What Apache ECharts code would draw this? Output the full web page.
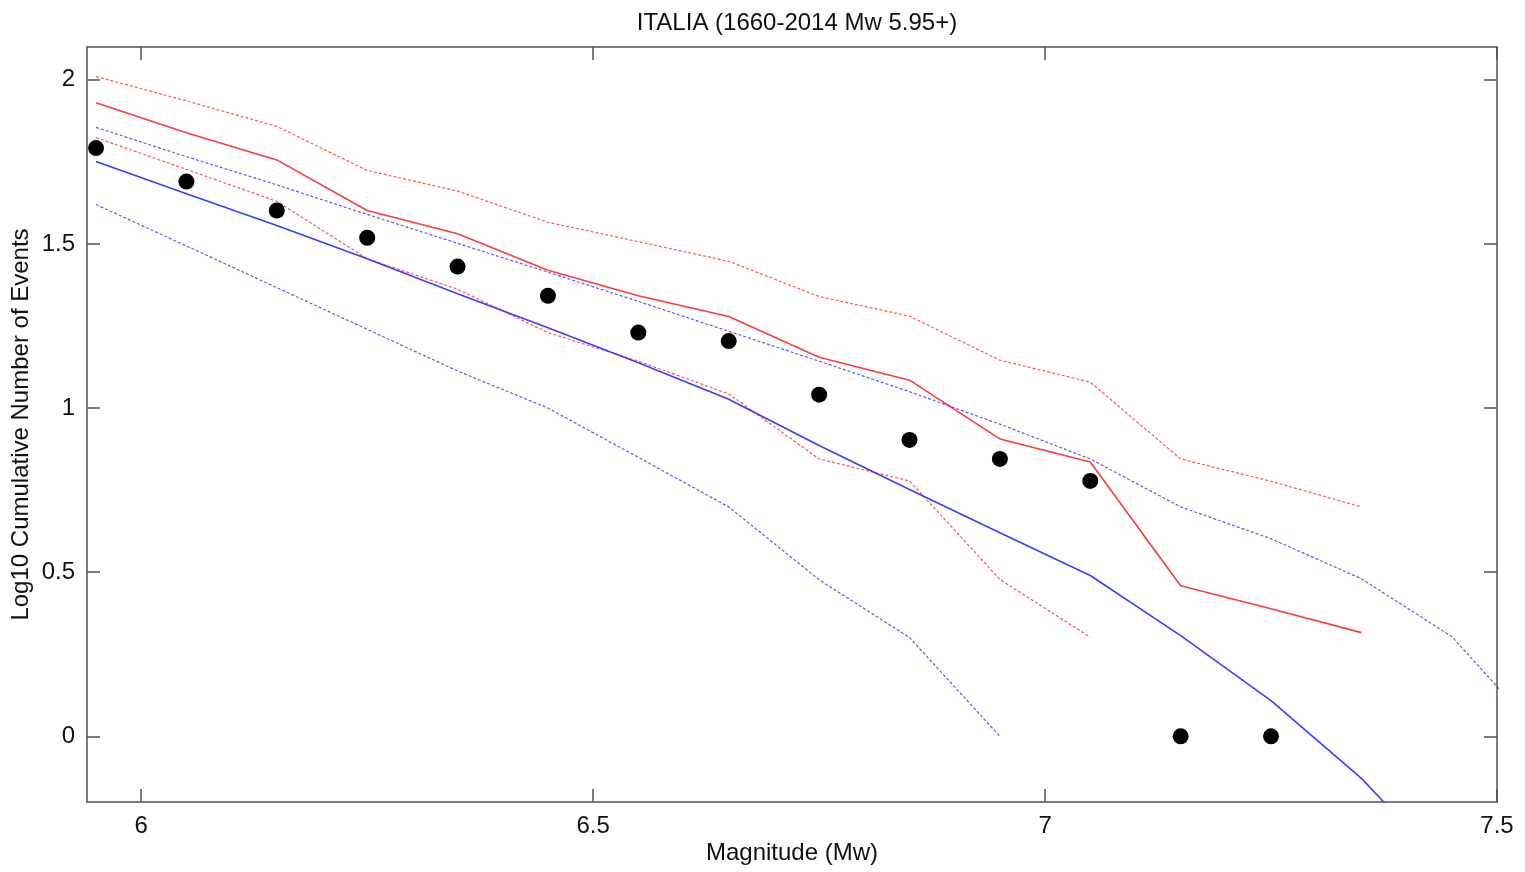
<!DOCTYPE html>
<html>
<head>
<meta charset="utf-8">
<script src="https://cdn.jsdelivr.net/npm/echarts@6/dist/echarts.min.js"></script>
<style>
html,body{margin:0;padding:0;background:#fff;}
#chart{width:1525px;height:872px;}
</style>
</head>
<body>
<div id="chart"></div>
<script>
// Magnitude bins (Mw)
const magnitudes = [5.95, 6.05, 6.15, 6.25, 6.35, 6.45, 6.55, 6.65, 6.75, 6.85, 6.95, 7.05, 7.15, 7.25, 7.35, 7.45, 7.55];
// Observed log10 cumulative number of events
const observed = [1.792, 1.690, 1.602, 1.519, 1.431, 1.342, 1.230, 1.204, 1.041, 0.903, 0.845, 0.778, 0, 0];
// Red model: central and bounds
const redSolid = [1.930, 1.839, 1.756, 1.602, 1.531, 1.420, 1.342, 1.279, 1.155, 1.085, 0.906, 0.836, 0.459, 0.389, 0.316];
const redUpper = [2.010, 1.936, 1.858, 1.724, 1.661, 1.566, 1.507, 1.447, 1.340, 1.280, 1.146, 1.079, 0.845, 0.777, 0.699];
const redLower = [1.824, 1.727, 1.630, 1.455, 1.362, 1.230, 1.143, 1.043, 0.845, 0.778, 0.478, 0.302];
// Blue model: central and bounds
const blueSolid = [1.751, 1.653, 1.556, 1.455, 1.348, 1.245, 1.138, 1.027, 0.886, 0.752, 0.620, 0.490, 0.307, 0.109, -0.128, -0.420];
const blueUpper = [1.855, 1.766, 1.680, 1.590, 1.502, 1.414, 1.325, 1.234, 1.143, 1.050, 0.951, 0.845, 0.699, 0.602, 0.480, 0.304, 0.000];
const blueLower = [1.620, 1.494, 1.367, 1.240, 1.113, 1.000, 0.850, 0.699, 0.477, 0.301, 0.000];
// Axis ticks
const xTicks = [6, 6.5, 7, 7.5];
const yTicks = [0, 0.5, 1, 1.5, 2];

const titleText = 'ITALIA (1660-2014 Mw 5.95+)';
const xName = 'Magnitude (Mw)';
const yName = 'Log10 Cumulative Number of Events';

function pairs(vals) { return vals.map((v, i) => [magnitudes[i], v]); }

const RED = '#ff3b3b';
const BLUE = '#3d3dff';
const FONT = 'Liberation Sans, Arial, sans-serif';
const AXIS_COLOR = '#505050';
const TEXT = '#111111';

const chart = echarts.init(document.getElementById('chart'), null, {renderer: 'canvas'});

const xBase = {
  type: 'value', min: 5.94, max: 7.5,
  splitLine: {show: false},
  axisLine: {show: true, onZero: false, lineStyle: {color: AXIS_COLOR, width: 1.5}},
  axisTick: {show: true, inside: true, length: 13, customValues: xTicks, lineStyle: {color: AXIS_COLOR, width: 1.5}}
};
const yBase = {
  type: 'value', min: -0.2, max: 2.1,
  splitLine: {show: false},
  axisLine: {show: true, onZero: false, lineStyle: {color: AXIS_COLOR, width: 1.5}},
  axisTick: {show: true, inside: true, length: 13, customValues: yTicks, lineStyle: {color: AXIS_COLOR, width: 1.5}}
};

function lineSeries(vals, color, dashed) {
  return {
    type: 'line', xAxisIndex: 0, yAxisIndex: 0,
    data: pairs(vals), symbol: 'none', clip: true, silent: true,
    lineStyle: {color: color, width: dashed ? 1.2 : 1.6, type: dashed ? [3, 2] : 'solid', opacity: dashed ? 0.85 : 1},
    z: 2
  };
}

chart.setOption({
  animation: false,
  backgroundColor: '#ffffff',
  title: {
    text: titleText, left: 792, top: 6, textAlign: 'center',
    textStyle: {fontFamily: FONT, fontSize: 24, fontWeight: 'normal', color: TEXT}
  },
  grid: {left: 87, right: 28, top: 47, bottom: 70, containLabel: false, outerBoundsMode: 'none'},
  xAxis: [
    Object.assign({}, xBase, {
      position: 'bottom',
      name: xName, nameLocation: 'middle', nameGap: 39, nameMoveOverlap: false,
      nameTextStyle: {fontFamily: FONT, fontSize: 24, color: TEXT},
      axisLabel: {show: true, customValues: xTicks, margin: 12, fontFamily: FONT, fontSize: 24, color: TEXT}
    }),
    Object.assign({}, xBase, {position: 'top', axisLabel: {show: false}})
  ],
  yAxis: [
    Object.assign({}, yBase, {
      position: 'left',
      name: yName, nameLocation: 'middle', nameGap: 54, nameMoveOverlap: false,
      nameTextStyle: {fontFamily: FONT, fontSize: 24, color: TEXT},
      axisLabel: {show: true, customValues: yTicks, margin: 12, fontFamily: FONT, fontSize: 24, color: TEXT}
    }),
    Object.assign({}, yBase, {position: 'right', axisLabel: {show: false}})
  ],
  series: [
    lineSeries(redUpper, RED, true),
    lineSeries(redLower, RED, true),
    lineSeries(redSolid, RED, false),
    lineSeries(blueUpper, BLUE, true),
    lineSeries(blueLower, BLUE, true),
    lineSeries(blueSolid, BLUE, false),
    {
      type: 'scatter', xAxisIndex: 0, yAxisIndex: 0,
      data: pairs(observed), symbol: 'circle', symbolSize: 16,
      itemStyle: {color: '#000000', opacity: 1}, silent: true, z: 5
    }
  ]
});
</script>
</body>
</html>
